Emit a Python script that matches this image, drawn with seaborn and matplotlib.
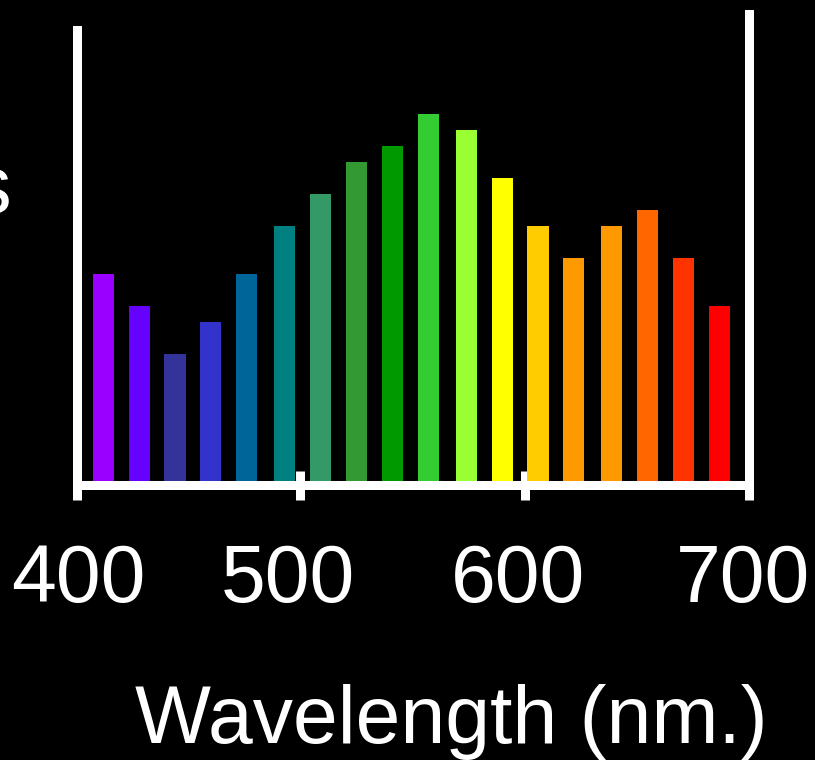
import matplotlib
matplotlib.use("Agg")
import matplotlib.pyplot as plt
import matplotlib.transforms as mtransforms
import seaborn as sns

# bar centres (nm) and heights
wavelengths = [412, 428, 444, 460, 476, 493, 509, 525, 541,
               557, 574, 590, 606, 622, 639, 655, 671, 687]
photons = [13, 11, 8, 10, 13, 16, 18, 20, 21, 23, 22, 19, 16, 14, 16, 17, 14, 11]
bar_colors = ["#9900FF", "#6600FF", "#333399", "#3333CC", "#006699", "#008080",
              "#339966", "#339933", "#009900", "#33CC33", "#99FF33", "#FFFF00",
              "#FFCC00", "#FF9900", "#FF9900", "#FF6600", "#FF3300", "#FF0000"]
tick_values = [400, 500, 600, 700]
tick_labels = ["400", "500", "600", "700"]

sns.set_theme(style="ticks")
plt.rcParams["font.family"] = ["Liberation Sans", "DejaVu Sans"]

W, H = 815, 760
fig = plt.figure(figsize=(W / 100, H / 100), dpi=100, facecolor="black")
px_per_unit = 16.0
base_px = 484.5   # centre of the bottom axis line
zero_px = 482.0   # where the bars start
ax = fig.add_axes([76.5 / W, (H - base_px) / H, 672 / W, 475 / H])
ax.set_facecolor("black")

hue_keys = [str(w) for w in wavelengths]
sns.barplot(x=wavelengths, y=photons, hue=hue_keys,
            palette=dict(zip(hue_keys, bar_colors)),
            native_scale=True, dodge=False, legend=False,
            saturation=1, width=0.59, linewidth=0, ax=ax)

y_lo = -(base_px - zero_px) / px_per_unit
ax.set_xlim(400, 700)
ax.set_ylim(y_lo, y_lo + 475 / px_per_unit)
ax.set_yticks([])
ax.set_xticks(tick_values)
ax.set_xticklabels(tick_labels)
ax.set_xlabel("")
ax.set_ylabel("")

lw = 9 * 0.72
for side in ["left", "right", "bottom"]:
    ax.spines[side].set_color("white")
    ax.spines[side].set_linewidth(lw)
    ax.spines[side].set_capstyle("projecting")
    ax.spines[side].set_zorder(5)
ax.spines["top"].set_visible(False)
ax.spines["left"].set_bounds(y_lo, (zero_px - 29.5) / px_per_unit)
ax.spines["right"].set_bounds(y_lo, (zero_px - 14) / px_per_unit)

ax.tick_params(axis="x", direction="inout", length=29 * 0.72, width=lw,
               color="white", labelcolor="white", labelsize=58, pad=32)
for t in ax.xaxis.get_major_ticks():
    t.tick1line.set_zorder(6)

# the labels sit a little left of their ticks in the original
nudges = [2, -13, -7, -6]
for lab, dx in zip(ax.get_xticklabels(), nudges):
    lab.set_transform(lab.get_transform() +
                      mtransforms.ScaledTranslation(dx / 100, 0, fig.dpi_scale_trans))

fig.text(451 / W, 17 / H, "Wavelength (nm.)", color="white", fontsize=58,
         ha="center", va="baseline")
# tail of the y label, cut off by the left edge as in the original
fig.text(11 / W, (H - 213) / H, "s", color="white", fontsize=60,
         ha="right", va="baseline")

fig.savefig("out.png", dpi=100, facecolor="black")
